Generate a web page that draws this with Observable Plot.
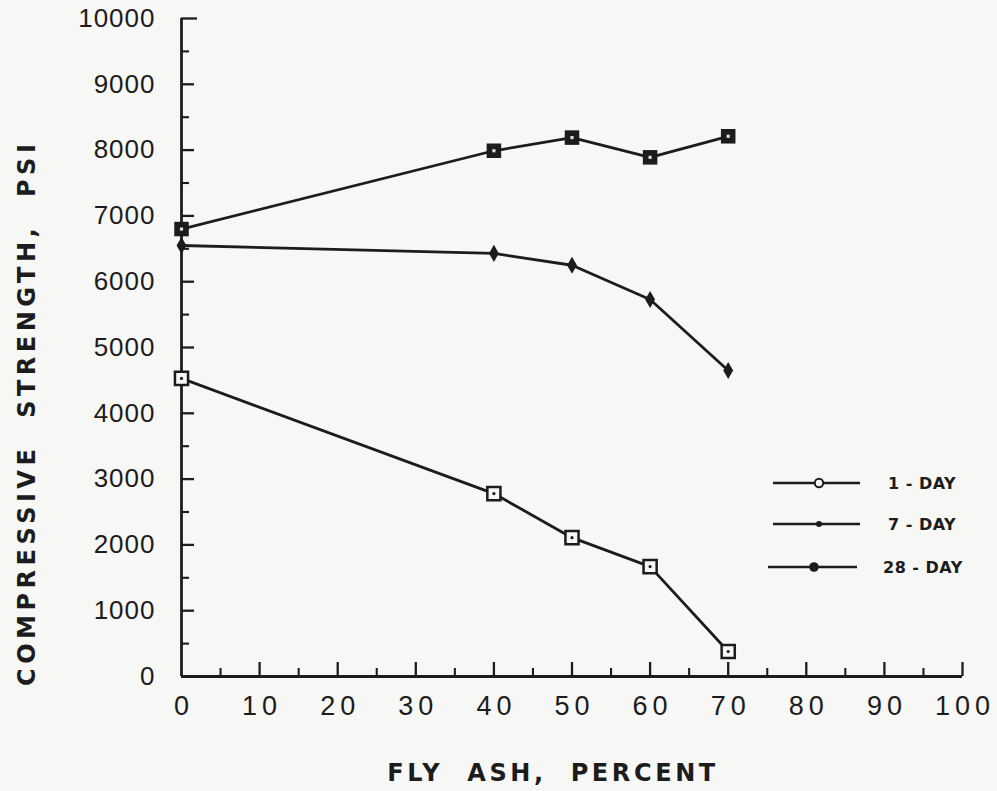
<!DOCTYPE html>
<html>
<head>
<meta charset="utf-8">
<script src="https://cdn.jsdelivr.net/npm/d3@7"></script>
<script src="https://cdn.jsdelivr.net/npm/@observablehq/plot@0.6"></script>
<style>
  html, body { margin: 0; padding: 0; background: #f7f7f5; }
  #chart svg { display: block; }
</style>
</head>
<body>
<div id="chart"></div>
<script>
// ---- data ----
const flyAsh = [0, 40, 50, 60, 70];
const day1 = [4530, 2780, 2110, 1670, 380];
const day7 = [6550, 6430, 6250, 5730, 4650];
const day28 = [6800, 7990, 8190, 7890, 8210];
const seriesNames = ["1 - DAY", "7 - DAY", "28 - DAY"];
const xTickLabels = [0, 10, 20, 30, 40, 50, 60, 70, 80, 90, 100];
const yTickLabels = [0, 1000, 2000, 3000, 4000, 5000, 6000, 7000, 8000, 9000, 10000];
const xMinorTicks = [5, 15, 25, 35, 45, 55, 65, 75, 85, 95];
const yMinorTicks = [500, 1500, 2500, 3500, 4500, 5500, 6500, 7500, 8500, 9500];

const rows = [];
[day1, day7, day28].forEach((vals, i) => {
  vals.forEach((v, j) => rows.push({series: seriesNames[i], x: flyAsh[j], y: v}));
});
const s1 = rows.filter(d => d.series === seriesNames[0]);
const s7 = rows.filter(d => d.series === seriesNames[1]);
const s28 = rows.filter(d => d.series === seriesNames[2]);

// ---- layout ----
const W = 997, H = 791;
const mL = 181, mR = 35, mT = 18, mB = 115;
const fw = W - mL - mR, fh = H - mT - mB;
const ink = "#1c1c1c";
const bg = "#f7f7f5";

const plot = Plot.plot({
  width: W,
  height: H,
  marginLeft: mL, marginRight: mR, marginTop: mT, marginBottom: mB,
  style: {background: bg, color: ink, fontFamily: "'Liberation Sans', Arial, sans-serif"},
  x: {domain: [0, 100], axis: null},
  y: {domain: [0, 10000], axis: null},
  marks: [
    // axis lines
    Plot.ruleX([0], {stroke: ink, strokeWidth: 2.8}),
    Plot.ruleY([0], {stroke: ink, strokeWidth: 2.8}),
    // inward ticks
    Plot.tickY(yTickLabels.filter(d => d > 0 && d < 10000), {y: d => d, stroke: ink, strokeWidth: 2.3, insetRight: fw - 13}),
    Plot.tickY([10000], {y: d => d, stroke: ink, strokeWidth: 2.3, insetRight: fw - 16}),
    Plot.tickY(yMinorTicks, {y: d => d, stroke: ink, strokeWidth: 2.1, insetRight: fw - 8}),
    Plot.tickX(xTickLabels.filter(d => d > 0), {x: d => d, stroke: ink, strokeWidth: 2.3, insetTop: fh - 14}),
    Plot.tickX(xMinorTicks, {x: d => d, stroke: ink, strokeWidth: 2.1, insetTop: fh - 8}),
    // tick labels (y first, then x)
    Plot.text(yTickLabels, {x: 0, y: d => d, text: d => String(d), dx: -26, textAnchor: "end",
      fontSize: 26, fill: ink}),
    Plot.text(xTickLabels, {x: d => d, y: 0, text: d => String(d), dy: 30, dx: 2.5,
      fontSize: 27, fill: ink}),
    // lines
    Plot.line(rows, {x: "x", y: "y", z: "series", stroke: ink, strokeWidth: 2.8}),
    // 1-day markers: open square with centre dot
    Plot.dot(s1, {x: "x", y: "y", symbol: "square", r: 7.4, fill: bg, stroke: ink, strokeWidth: 2.5}),
    Plot.dot(s1, {x: "x", y: "y", r: 1.6, fill: ink, stroke: "none"}),
    // 7-day markers: filled diamond
    Plot.dot(s7, {x: "x", y: "y", symbol: "diamond", r: 5.2, fill: ink, stroke: "none"}),
    // 28-day markers: dark square with light centre
    Plot.dot(s28, {x: "x", y: "y", symbol: "square", r: 8.2, fill: ink, stroke: "none"}),
    Plot.dot(s28, {x: "x", y: "y", symbol: "square", r: 1.8, fill: "#ddd", stroke: "none"})
  ]
});

document.getElementById("chart").appendChild(plot);

// ---- styling, titles & legend ----
const svg = d3.select(plot);
const textGroups = svg.selectAll('g[aria-label="text"]').nodes();
if (textGroups[0]) textGroups[0].querySelectorAll("text").forEach(t => {
  t.style.fontSize = "26px"; t.style.letterSpacing = "1px";
});
if (textGroups[1]) textGroups[1].querySelectorAll("text").forEach(t => {
  t.style.fontSize = "27px"; t.style.letterSpacing = "5px";
});

const boldFont = "'DejaVu Sans', 'Liberation Sans', sans-serif";

svg.append("text")
  .attr("transform", `translate(27, ${mT + fh * 0.6}) rotate(-90)`)
  .attr("text-anchor", "middle")
  .attr("dominant-baseline", "central")
  .attr("fill", ink)
  .style("font-family", boldFont)
  .style("font-weight", "bold")
  .style("font-size", "24px")
  .style("letter-spacing", "4.5px")
  .style("word-spacing", "14px")
  .text("COMPRESSIVE STRENGTH, PSI");

svg.append("text")
  .attr("x", 553)
  .attr("y", 773)
  .attr("text-anchor", "middle")
  .attr("dominant-baseline", "central")
  .attr("fill", ink)
  .style("font-family", boldFont)
  .style("font-weight", "bold")
  .style("font-size", "24px")
  .style("letter-spacing", "3.6px")
  .style("word-spacing", "12px")
  .text("FLY ASH, PERCENT");

const legendY = [483, 524, 567];
const legendLine = [[773, 860], [773, 860], [768, 857]];
const legendMark = [819, 819, 814];
const legendText = [888, 888, 883];
seriesNames.forEach((name, i) => {
  const g = svg.append("g");
  g.append("line")
    .attr("x1", legendLine[i][0]).attr("x2", legendLine[i][1])
    .attr("y1", legendY[i]).attr("y2", legendY[i])
    .attr("stroke", ink).attr("stroke-width", 2.4);
  if (i === 0) {
    g.append("circle").attr("cx", legendMark[i]).attr("cy", legendY[i]).attr("r", 4.2)
      .attr("fill", bg).attr("stroke", ink).attr("stroke-width", 2);
  } else if (i === 1) {
    g.append("circle").attr("cx", legendMark[i]).attr("cy", legendY[i]).attr("r", 3).attr("fill", ink);
  } else {
    g.append("circle").attr("cx", legendMark[i]).attr("cy", legendY[i]).attr("r", 4.8).attr("fill", ink);
  }
  g.append("text")
    .attr("x", legendText[i]).attr("y", legendY[i])
    .attr("text-anchor", "start")
    .attr("dominant-baseline", "central")
    .attr("fill", ink)
    .style("font-family", boldFont)
    .style("font-weight", "bold")
    .style("font-size", "16px")
    .style("letter-spacing", "0.5px")
    .text(name);
});
</script>
</body>
</html>
